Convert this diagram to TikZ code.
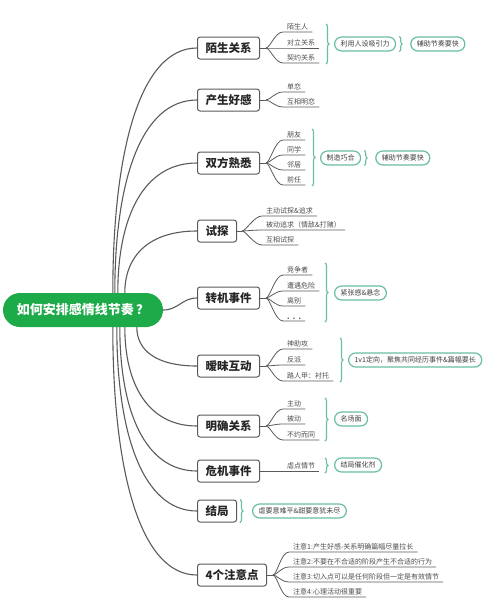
\documentclass[tikz,border=0pt]{standalone}
\usepackage{fontspec}
\setmainfont{Noto Sans CJK SC}
\usetikzlibrary{positioning}
\usetikzlibrary{decorations.pathreplacing}
\definecolor{rootgreen}{RGB}{29,170,72}
\definecolor{taggreen}{RGB}{104,190,160}
\definecolor{linegray}{RGB}{90,90,90}

\begin{document}
\begin{tikzpicture}[x=1pt, y=-1pt,
	root/.style={fill=rootgreen, text=white, rounded corners=17pt, minimum width=160pt, minimum height=34pt, font=\fontsize{13}{13}\selectfont\bfseries},
	topic/.style={draw=linegray, line width=1pt, rounded corners=2.5pt, fill=white, minimum height=22pt, inner xsep=8pt, anchor=west, text=black!85, font=\fontsize{11.5}{12}\selectfont\bfseries},
	leaf/.style={anchor=south west, inner xsep=4pt, inner ysep=1.5pt, text=black!70, font=\fontsize{7}{8}\selectfont},
	tag/.style={draw=taggreen, line width=1.2pt, rounded corners=7pt, fill=white, minimum height=14pt, inner xsep=6pt, anchor=west, text=black!75, font=\fontsize{7}{8}\selectfont},
	branch/.style={draw=linegray, line width=1.1pt},
	twig/.style={draw=linegray, line width=0.8pt},
	curly/.style={draw=taggreen, line width=1.1pt, decorate, decoration={brace, amplitude=3pt}}
	]
	\useasboundingbox (0,0) rectangle (498,600);

	\node[root] (root) at (83,310) {如何安排感情线节奏\,？};

	\node[topic] (mosheng) at (197,48) {陌生关系};
	\node[topic] (haogan) at (197,100) {产生好感};
	\node[topic] (shuxi) at (197,163) {双方熟悉};
	\node[topic] (shitan) at (197,231) {试探};
	\node[topic] (zhuanji) at (197,298) {转机事件};
	\node[topic] (aimei) at (197,366) {暧昧互动};
	\node[topic] (mingque) at (197,426) {明确关系};
	\node[topic] (weiji) at (197,471) {危机事件};
	\node[topic] (jieju) at (197,511) {结局};
	\node[topic] (zhuyi) at (197,575) {4个注意点};

	\foreach \t/\sx/\a/\b in {mosheng/110/142/57, haogan/112/112/56, shuxi/115/75/54, shitan/122/36/49}
		\draw[branch] ([xshift=\sx pt]root.north west) .. controls +(0,-\a) and +(-\b,0) .. (\t.west);
	\foreach \t/\sx/\a/\b in {aimei/134/23/41, mingque/122/57/49, weiji/117/84/52, jieju/114/107/54, zhuyi/110/144/57}
		\draw[branch] ([xshift=\sx pt]root.south west) .. controls +(0,\a) and +(-\b,0) .. (\t.west);
	\draw[branch] (root.east) .. controls +(15,0) and +(-15,0) .. (zhuanji.west);

	\coordinate (f1) at ([xshift=6pt]mosheng.east);
	\draw[twig] (mosheng.east) -- (f1);
	\foreach \n/\y/\lbl in {a/32/陌生人, b/48/对立关系, c/63/契约关系} {
		\node[leaf] (ms\n) at (283,\y) {\lbl};
		\draw[twig] (f1) .. controls +(4,0) and +(-8,0) .. (ms\n.south west) -- (ms\n.south east);
	}
	\draw[curly] (326,24) -- (326,64);
	\node[tag] (lyrs) at (334,44) {利用人设吸引力};
	\draw[curly] ([xshift=3pt]lyrs.north east) -- ([xshift=3pt]lyrs.south east);
	\node[tag, right=14pt of lyrs] (jzkuai) {辅助节奏要快};

	\coordinate (f2) at ([xshift=6pt]haogan.east);
	\draw[twig] (haogan.east) -- (f2);
	\foreach \n/\y/\lbl in {a/92/单恋, b/107/互相明恋} {
		\node[leaf] (hg\n) at (283,\y) {\lbl};
		\draw[twig] (f2) .. controls +(4,0) and +(-8,0) .. (hg\n.south west) -- (hg\n.south east);
	}

	\coordinate (f3) at ([xshift=6pt]shuxi.east);
	\draw[twig] (shuxi.east) -- (f3);
	\foreach \n/\y/\lbl in {a/140/朋友, b/155/同学, c/170/邻居, d/185/前任} {
		\node[leaf] (sx\n) at (283,\y) {\lbl};
		\draw[twig] (f3) .. controls +(4,0) and +(-8,0) .. (sx\n.south west) -- (sx\n.south east);
	}
	\draw[curly] (312,129) -- (312,186);
	\node[tag] (zzqh) at (320,158) {制造巧合};
	\draw[curly] ([xshift=3pt]zzqh.north east) -- ([xshift=3pt]zzqh.south east);
	\node[tag, right=14pt of zzqh] (jzkuai2) {辅助节奏要快};

	\coordinate (f4) at ([xshift=5pt]shitan.east);
	\draw[twig] (shitan.east) -- (f4);
	\foreach \n/\y/\lbl in {a/216/主动试探\&追求, b/230/被动追求（情敌\&打赌）, c/245/互相试探} {
		\node[leaf] (st\n) at (262,\y) {\lbl};
		\draw[twig] (f4) .. controls +(4,0) and +(-8,0) .. (st\n.south west) -- (st\n.south east);
	}

	\coordinate (f5) at ([xshift=6pt]zhuanji.east);
	\draw[twig] (zhuanji.east) -- (f5);
	\foreach \n/\y/\lbl in {a/275/竞争者, b/291/遭遇危险, c/306/离别, d/321/\textbf{.\ \ .\ \ .}\ } {
		\node[leaf] (zj\n) at (283,\y) {\lbl};
		\draw[twig] (f5) .. controls +(4,0) and +(-8,0) .. (zj\n.south west) -- (zj\n.south east);
	}
	\draw[curly] (325,263) -- (325,322);
	\node[tag] (jzg) at (334,293) {紧张感\&悬念};

	\coordinate (f6) at ([xshift=6pt]aimei.east);
	\draw[twig] (aimei.east) -- (f6);
	\foreach \n/\y/\lbl in {a/349/神助攻, b/365/反派, c/381/路人甲：衬托} {
		\node[leaf] (am\n) at (283,\y) {\lbl};
		\draw[twig] (f6) .. controls +(4,0) and +(-8,0) .. (am\n.south west) -- (am\n.south east);
	}
	\draw[curly] (340,338) -- (340,382);
	\node[tag] (dxiang) at (348,360) {1v1定向，聚焦共同经历事件\&篇幅要长};

	\coordinate (f7) at ([xshift=6pt]mingque.east);
	\draw[twig] (mingque.east) -- (f7);
	\foreach \n/\y/\lbl in {a/409/主动, b/424/被动, c/440/不约而同} {
		\node[leaf] (mq\n) at (283,\y) {\lbl};
		\draw[twig] (f7) .. controls +(4,0) and +(-8,0) .. (mq\n.south west) -- (mq\n.south east);
	}
	\draw[curly] (325,398) -- (325,441);
	\node[tag] (mcm) at (334,419) {名场面};

	\node[leaf] (nd) at (283,471) {虐点情节};
	\draw[twig] (weiji.east) -- (nd.south east);
	\draw[curly] (325,458) -- (325,473);
	\node[tag] (jjc) at (334,465) {结局催化剂};

	\draw[curly] ([xshift=3pt]jieju.north east) -- ([xshift=3pt]jieju.south east);
	\node[tag] (ynp) at (252,511) {虐要意难平\&甜要意犹未尽};

	\coordinate (f8) at ([xshift=6pt]zhuyi.east);
	\draw[twig] (zhuyi.east) -- (f8);
	\foreach \n/\y/\lbl in {a/552/注意1:产生好感-关系明确篇幅尽量拉长, b/567/注意2:不要在不合适的阶段产生不合适的行为, c/582/注意3:切入点可以是任何阶段但一定是有效情节, d/597/注意4:心理活动很重要} {
		\node[leaf] (zy\n) at (289,\y) {\lbl};
		\draw[twig] (f8) .. controls +(4,0) and +(-8,0) .. (zy\n.south west) -- (zy\n.south east);
	}
\end{tikzpicture}
\end{document}
